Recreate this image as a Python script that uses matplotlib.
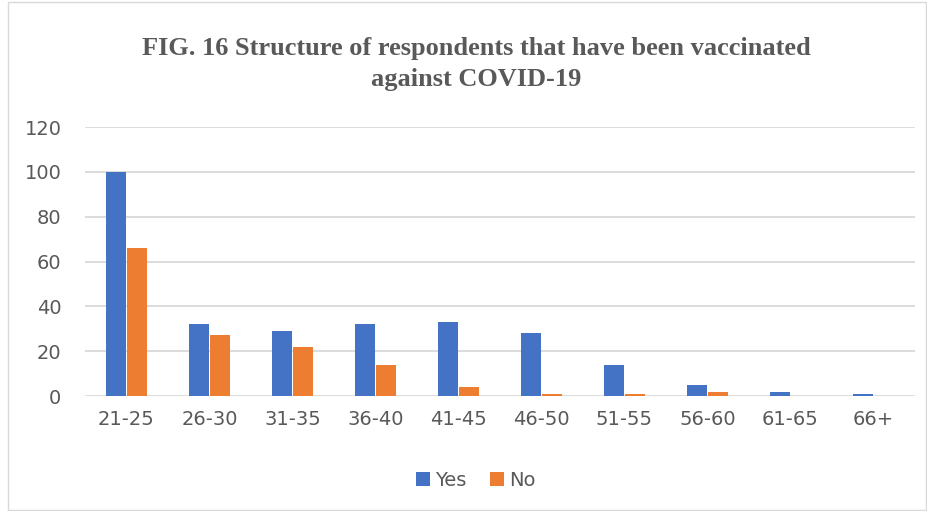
import matplotlib
matplotlib.use("Agg")
import matplotlib.pyplot as plt
import numpy as np
from matplotlib.patches import Rectangle

# chart data
age_groups = ["21-25", "26-30", "31-35", "36-40", "41-45",
              "46-50", "51-55", "56-60", "61-65", "66+"]
yes_counts = [100, 32, 29, 32, 33, 28, 14, 5, 2, 1]
no_counts = [66, 27, 22, 14, 4, 1, 1, 2, 0, 0]

BLUE = "#4472C4"
ORANGE = "#ED7D31"
GRAY = "#595959"

fig = plt.figure(figsize=(9.28, 5.11), dpi=100)
ax = fig.add_axes([85 / 928, 1 - 396 / 511, 830 / 928, (396 - 127) / 511])

x = np.arange(len(age_groups))
w = 0.24
ax.bar(x - 0.13, yes_counts, width=w, color=BLUE, label="Yes", zorder=3)
ax.bar(x + 0.13, no_counts, width=w, color=ORANGE, label="No", zorder=3)

ax.set_xlim(-0.5, len(age_groups) - 0.5)
ax.set_ylim(0, 120)
ax.set_yticks(range(0, 121, 20))
ax.set_xticks(x)
ax.set_xticklabels(age_groups)
ax.grid(axis="y", color="#D9D9D9", linewidth=1.3, zorder=0)
for s in ax.spines.values():
    s.set_visible(False)
ax.tick_params(axis="both", length=0, labelsize=14, labelcolor=GRAY)
ax.tick_params(axis="x", pad=10)
ax.tick_params(axis="y", pad=17)

fig.text(476 / 928, 1 - 64 / 511,
         "FIG. 16 Structure of respondents that have been vaccinated\nagainst COVID-19",
         ha="center", va="center", fontsize=19, fontweight="bold",
         family="Liberation Serif", color=GRAY, linespacing=1.45)

fig.legend(loc="center", bbox_to_anchor=(476 / 928, 1 - 480 / 511),
           ncol=2, frameon=False, fontsize=14, labelcolor=GRAY,
           handlelength=0.7, handleheight=0.7, handletextpad=0.3,
           columnspacing=1.2)

# light chart border
fig.patches.append(Rectangle((8 / 928, 0.002), 1 - 10 / 928, 0.995,
                             transform=fig.transFigure, fill=False,
                             edgecolor="#D9D9D9", linewidth=1))

fig.savefig("out.png", dpi=100)
